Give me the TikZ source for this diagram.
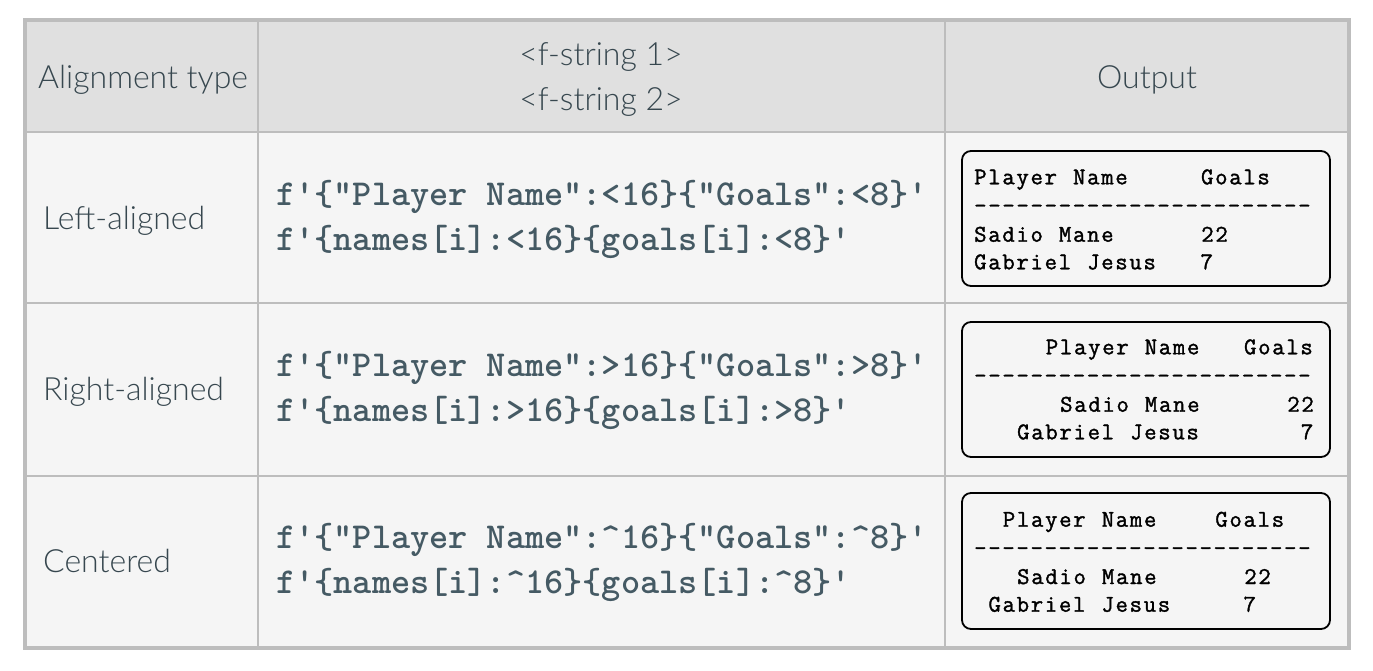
\documentclass[tikz,border=0pt]{standalone}
\usepackage{fontspec}
\IfFontExistsTF{Lato Light}{\setmainfont{Lato Light}}{\setmainfont{Lato}}
\IfFontExistsTF{lmmonolt10-bold.otf}{\newfontfamily\codefont{lmmonolt10-bold.otf}}{\newfontfamily\codefont{Latin Modern Mono}}
\newfontfamily\boxfont{Latin Modern Mono}[LetterSpace=7.2,FakeBold=1.5]
\definecolor{hdrbg}{HTML}{E0E0E0}
\definecolor{bodybg}{HTML}{F5F5F5}
\definecolor{gridc}{HTML}{BDBDBD}
\definecolor{labc}{HTML}{37474F}
\definecolor{codec}{HTML}{455A64}
\newlength\cw \setlength\cw{14.333pt}
\newcommand\bsp[1]{\hspace*{\dimexpr#1\cw+1.733pt\relax}}
\newcommand\lsp[1]{\hspace*{#1\cw}}
\tikzset{
  lab/.style={font=\fontsize{32}{37}\selectfont, text=labc, inner sep=0pt},
  codeln/.style={font=\codefont\fontsize{36.5}{42}\selectfont, text=codec, inner sep=0pt, anchor=base west},
  outbox/.style={draw=black, line width=1.8pt, rounded corners=9pt, fill=bodybg},
  btxt/.style={font=\boxfont\fontsize{24}{28}\selectfont, text=black, inner sep=0pt, anchor=base west},
  gridline/.style={draw=gridc, line width=2pt},
}
\begin{document}
\begin{tikzpicture}[x=1pt,y=-1pt]
\useasboundingbox (0,0) rectangle (1373,670);
\fill[white] (0,0) rectangle (1373,670);
% cell fills
\fill[hdrbg] (25,20) rectangle (1349,132);
\fill[bodybg] (25,132) rectangle (1349,648);
% grid
\draw[gridline] (258,20) -- (258,648);
\draw[gridline] (944.5,20) -- (944.5,648);
\draw[gridline] (25,132) -- (1349,132);
\draw[gridline] (25,303) -- (1349,303);
\draw[gridline] (25,475.5) -- (1349,475.5);
\draw[draw=gridc, line width=4pt] (25,20) rectangle (1349,648);
% header
\node[lab, anchor=base west] (h1) at (38,88) {Alignment type};
\node[lab, anchor=base] (h2a) at (601,65) {<f-string 1>};
\node[lab, anchor=base] (h2b) at (601,110) {<f-string 2>};
\node[lab, anchor=base] (h3) at (1147,88) {Output};
% row labels
\node[lab, anchor=base west] (l1) at (43,229) {Left-aligned};
\node[lab, anchor=base west] (l2) at (43,400.5) {Right-aligned};
\node[lab, anchor=base west] (l3) at (43,572) {Centered};
% code
\node[codeln] (c1a) at (276,205) {f'\{"Player Name":<16\}\{"Goals":<8\}'};
\node[codeln] (c1b) at (276,250) {f'\{names[i]:<16\}\{goals[i]:<8\}'};
\node[codeln] (c2a) at (276,376.5) {f'\{"Player Name":>16\}\{"Goals":>8\}'};
\node[codeln] (c2b) at (276,421.5) {f'\{names[i]:>16\}\{goals[i]:>8\}'};
\node[codeln] (c3a) at (276,548) {f'\{"Player Name":\textasciicircum16\}\{"Goals":\textasciicircum8\}'};
\node[codeln] (c3b) at (276,593) {f'\{names[i]:\textasciicircum16\}\{goals[i]:\textasciicircum8\}'};
% output boxes
\draw[outbox] (962,151) rectangle (1330,286);
\draw[outbox] (962,322) rectangle (1330,457);
\draw[outbox] (962,493) rectangle (1330,629);
% box 1
\node[btxt] (b1a) at (974,184.3) {Player\bsp{1}Name\bsp{5}Goals};
\node[btxt] (b1b) at (974,213) {------------------------};
\node[btxt] (b1c) at (974,241.7) {Sadio\bsp{1}Mane\bsp{6}22};
\node[btxt] (b1d) at (974,269.3) {Gabriel\bsp{1}Jesus\bsp{3}7};
% box 2
\node[btxt] (b2a) at (974,354.3) {\lsp{5}Player\bsp{1}Name\bsp{3}Goals};
\node[btxt] (b2b) at (974,383) {------------------------};
\node[btxt] (b2c) at (974,411.7) {\lsp{6}Sadio\bsp{1}Mane\bsp{6}22};
\node[btxt] (b2d) at (974,439.3) {\lsp{3}Gabriel\bsp{1}Jesus\bsp{7}7};
% box 3
\node[btxt] (b3a) at (974,526.7) {\lsp{2}Player\bsp{1}Name\bsp{4}Goals};
\node[btxt] (b3b) at (974,555.4) {------------------------};
\node[btxt] (b3c) at (974,584) {\lsp{3}Sadio\bsp{1}Mane\bsp{6}22};
\node[btxt] (b3d) at (974,611.7) {\lsp{1}Gabriel\bsp{1}Jesus\bsp{5}7};
\end{tikzpicture}
\end{document}
